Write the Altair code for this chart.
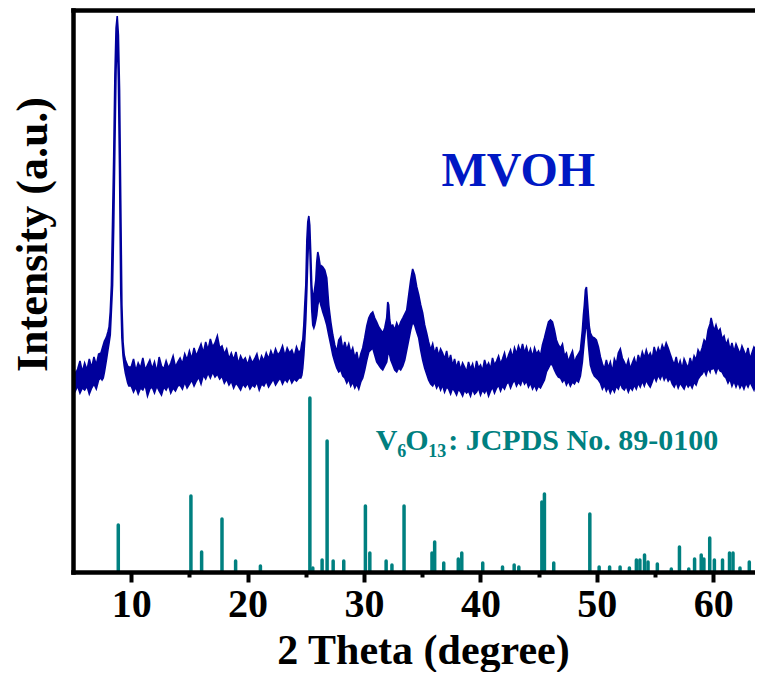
import altair as alt
import pandas as pd

# ---------------- data ----------------
# XRD pattern of MVOH: upper / lower edges of the noisy trace (a.u.)
two_theta = [5.00, 5.20, 5.40, 5.60, 5.80, 6.00, 6.20, 6.40, 6.60, 6.80, 7.00, 7.20, 7.40,
             7.50, 7.60, 7.70, 7.80, 7.90, 8.00, 8.10, 8.20, 8.30, 8.40, 8.50, 8.60, 8.70,
             8.80, 8.90, 9.00, 9.10, 9.20, 9.30, 9.40, 9.50, 9.60, 9.70, 9.80,
             10.0, 10.2, 10.4, 10.6, 10.8, 11.0, 11.2, 11.4, 11.6, 11.8, 12.0, 12.2, 12.4,
             12.6, 12.8, 13.0, 13.2, 13.4, 13.6, 13.8, 14.0, 14.2, 14.4, 14.6, 14.8, 15.0,
             15.2, 15.4, 15.6, 15.8, 16.0, 16.2, 16.4, 16.6, 16.8, 17.0, 17.2, 17.4, 17.6,
             17.8, 18.0, 18.2, 18.4, 18.6, 18.8, 19.0, 19.2, 19.4, 19.6, 19.8, 20.0, 20.2,
             20.4, 20.6, 20.8, 21.0, 21.2, 21.4, 21.6, 21.8, 22.0, 22.2, 22.4, 22.6, 22.8,
             23.0, 23.2, 23.4, 23.6, 23.8, 24.0, 24.2, 24.4,
             24.57, 24.66, 24.74, 24.83, 24.91, 25.00, 25.09, 25.17, 25.26, 25.34, 25.43,
             25.51, 25.60, 25.69, 25.77, 25.86, 25.94, 26.03, 26.12, 26.20, 26.29, 26.37,
             26.46, 26.63, 26.80, 26.97, 27.15, 27.32, 27.49, 27.66, 27.83, 28.00, 28.18,
             28.35, 28.52, 28.69, 28.86, 29.03, 29.21, 29.38, 29.55, 29.72, 29.89, 30.06,
             30.24, 30.41, 30.58, 30.75, 30.92, 31.09, 31.27, 31.44, 31.61, 31.78, 31.95,
             32.04, 32.12, 32.21, 32.30, 32.47, 32.64, 32.81, 32.98, 33.15, 33.33, 33.50,
             33.67, 33.84, 34.01, 34.18, 34.35, 34.53, 34.70, 34.87, 35.04, 35.21, 35.38,
             35.55, 35.73, 35.90, 36.07, 36.24, 36.41, 36.58, 36.75, 36.92, 37.10, 37.27,
             37.44, 37.61, 37.78, 37.95, 38.12, 38.30, 38.47, 38.64, 38.81, 38.98, 39.15,
             39.33, 39.50, 39.67, 39.84, 40.01, 40.18, 40.36, 40.53, 40.70, 40.87, 41.04,
             41.21, 41.39, 41.56, 41.73, 41.90, 42.07, 42.24, 42.42, 42.59, 42.76, 42.93,
             43.10, 43.27, 43.45, 43.62, 43.79, 43.96, 44.13, 44.30, 44.48, 44.65, 44.82,
             44.99, 45.16, 45.33, 45.50, 45.67, 45.85, 46.02, 46.19, 46.36, 46.53, 46.70,
             46.88, 47.05, 47.22, 47.39, 47.56, 47.73, 47.91, 48.08, 48.25, 48.42, 48.59,
             48.76, 48.85, 48.93, 49.02, 49.11, 49.19, 49.28, 49.36, 49.45, 49.62, 49.79,
             49.96, 50.14, 50.31, 50.48, 50.65, 50.82, 50.99, 51.16, 51.34, 51.51, 51.68,
             51.85, 52.02, 52.19, 52.36, 52.53, 52.71, 52.88, 53.05, 53.22, 53.39, 53.56,
             53.73, 53.91, 54.08, 54.25, 54.42, 54.59, 54.76, 54.93, 55.10, 55.28, 55.45,
             55.62, 55.79, 55.96, 56.13, 56.30, 56.48, 56.65, 56.82, 56.99, 57.16, 57.33,
             57.50, 57.68, 57.85, 58.02, 58.19, 58.36, 58.53, 58.70, 58.88, 59.05, 59.22,
             59.39, 59.56, 59.73, 59.82, 59.90, 60.07, 60.24, 60.41, 60.59, 60.76, 60.93,
             61.10, 61.27, 61.44, 61.61, 61.79, 61.96, 62.13, 62.30, 62.47, 62.64, 62.81,
             62.99, 63.16, 63.33, 63.50, 63.67, 63.84, 64.01, 64.18, 64.35]

upper = [
    # 5.0 - 7.4
    206, 198, 203, 211, 200, 209, 202, 213, 204, 215, 207, 218, 219,
    # 7.5 - 9.8 (first reflection)
    223, 227, 231, 233, 236, 240, 245, 260, 287, 352, 417, 497, 544, 556, 537, 482,
    372, 267, 230, 217, 212, 209, 206, 205,
    # 10.0 - 24.4
    205, 213, 201, 209, 204, 214, 202, 207, 212, 203, 210, 200, 215, 206, 203, 211,
    204, 209, 216, 205, 210,
    214, 208, 218, 212, 221, 213, 224, 216, 222, 228, 219, 230, 222, 233, 225, 229,
    236, 224,
    226, 218, 223, 213, 219, 212, 220, 208, 216, 211, 214,
    207, 215, 209, 213, 218, 208, 216, 211, 219, 213, 221, 215, 223, 217, 220, 226,
    216, 224, 219, 222, 215, 225, 219,
    # 24.57 - 35.38
    222, 229, 232, 247, 267, 287, 332, 350, 356, 347, 317,
    287, 274, 277, 284, 292, 310, 320, 315, 309, 302, 306,
    305, 302, 294, 267, 250, 237, 227, 220, 232, 235, 222,
    230, 222, 228, 219, 224, 214, 220, 209, 218, 224, 234,
    246, 254, 258, 260, 254, 250, 245, 242, 239, 244, 254,
    270, 267, 252, 246, 247, 242, 249, 244, 250, 254, 258,
    262, 277, 292, 303, 297, 285, 277, 267, 259, 247, 239,
    # 35.55 - 45.16
    230, 222, 228, 218, 225, 216, 223, 219, 213, 221,
    210, 217, 206, 213, 204, 211, 202, 209, 205, 200,
    210, 203, 208, 199, 211, 204, 207, 201, 212, 205,
    209, 203, 214, 207, 211, 216, 208, 213, 219, 210,
    217, 222, 214, 224, 218, 226, 220, 228, 219, 225,
    217, 223, 215, 224, 218, 221, 216,
    # 45.33 - 46.70
    227, 234, 242, 250, 252, 250, 242, 232, 227,
    # 46.88 - 48.59
    224, 228, 216, 219, 210, 216, 221, 209, 215, 218, 222,
    # 48.76 - 50.14
    242, 257, 267, 282, 285, 272, 257, 245, 239, 235, 234, 232, 225,
    # 50.31 - 58.88
    215, 208, 203, 212, 204, 210, 200, 213, 208, 219,
    223, 214, 210, 205, 212, 203, 209, 214, 206, 217,
    211, 220, 214, 222, 215, 219, 213, 225, 217, 224,
    219, 227, 222, 229, 224, 218, 212, 207, 215, 205,
    211, 203, 213, 208, 204, 214, 207, 216, 212, 222,
    218,
    # 59.05 - 60.93
    224, 232, 229, 242, 248, 254, 250, 241, 247, 240, 243, 233, 236,
    # 61.10 - 64.35
    227, 232, 222, 229, 220, 228, 223, 218, 226, 221, 216, 224, 213, 219, 225, 222,
    232, 221, 226, 220]

lower = [
    # 5.0 - 7.4
    187, 181, 186, 179, 184, 182, 186, 178, 184, 188, 183, 192, 194,
    # 7.5 - 9.8
    192, 194, 200, 207, 214, 222, 229, 237, 262, 287, 347, 427, 502, 540, 492, 402,
    282, 234, 216, 206, 199, 194, 189, 186,
    # 10.0 - 24.4
    186, 180, 185, 178, 184, 182, 187, 176, 183, 185, 179, 186, 181, 177, 185, 182,
    187, 179, 184, 181, 186,
    187, 183, 190, 184, 188, 192, 186, 191, 195, 188, 197, 193, 199, 194, 200, 195,
    198, 193,
    196, 189, 193, 187, 191, 184, 189, 186, 182, 188, 185,
    189, 183, 187, 185, 190, 182, 188, 186, 191, 185, 189, 193, 187, 191, 194, 188,
    193, 190, 195, 189, 193, 191, 194,
    # 24.57 - 35.38
    194, 197, 204, 217, 232, 252, 282, 312, 337, 327, 292,
    262, 247, 244, 247, 252, 257, 267, 272, 272, 267, 264,
    260, 254, 247, 237, 227, 217, 210, 204, 200, 202, 196,
    194, 189, 193, 186, 190, 184, 188, 183, 190, 194, 202,
    212, 220, 222, 224, 217, 210, 207, 204, 202, 206, 210,
    217, 220, 217, 212, 207, 202, 200, 204, 202, 206, 212,
    222, 232, 242, 250, 247, 240, 234, 222, 212, 204, 198,
    # 35.55 - 45.16
    192, 188, 186, 190, 184, 188, 182, 187, 180, 185,
    183, 178, 184, 181, 177, 183, 180, 176, 182, 179,
    181, 176, 183, 178, 180, 184, 177, 182, 179, 183,
    176, 181, 185, 179, 184, 187, 181, 186, 183, 188,
    190, 184, 189, 192, 186, 190, 187, 193, 188, 191,
    185, 189, 183, 187, 182, 186, 184,
    # 45.33 - 46.70
    188, 192, 200, 204, 208, 207, 202, 198, 195,
    # 46.88 - 48.59
    194, 190, 193, 187, 191, 186, 190, 188, 192, 190, 196,
    # 48.76 - 50.14
    210, 222, 232, 242, 252, 242, 227, 217, 207, 200, 196, 194, 192,
    # 50.31 - 58.88
    189, 183, 187, 181, 185, 179, 184, 180, 186, 183,
    189, 184, 182, 186, 180, 185, 182, 187, 183, 189,
    185, 191, 186, 192, 188, 185, 190, 196, 191, 197,
    193, 198, 192, 196, 191, 194, 188, 185, 190, 184,
    189, 186, 183, 189, 185, 188, 184, 190, 187, 193,
    196,
    # 59.05 - 60.93
    198, 202, 197, 204, 200, 206, 203, 204, 199, 205, 201, 200, 196,
    # 61.10 - 64.35
    194, 189, 193, 186, 191, 185, 190, 184, 188, 183, 189, 185, 190, 186, 182, 189,
    185, 190, 184, 188]

# V6O13 reference pattern (JCPDS No. 89-0100): positions and relative heights
ref_pos = [8.89, 15.13, 16.05, 17.80, 18.97, 21.10, 25.35, 25.60, 26.40, 26.83, 27.35,
           28.26, 30.12, 30.50, 31.90, 32.40, 33.44, 35.84, 36.07, 36.85, 38.10, 38.40,
           40.20, 41.90, 42.90, 43.30, 45.28, 45.50, 46.30, 49.40, 50.20, 51.10, 52.00,
           52.80, 53.40, 53.70, 54.10, 54.40, 55.20, 56.40, 57.10, 57.90, 58.40, 58.97,
           59.20, 59.70, 60.10, 60.80, 61.40, 61.70, 62.30, 63.10, 64.10]
ref_height = [47, 76, 20, 53, 11, 6, 174, 4, 12, 131, 11,
              11, 66, 19, 11, 7, 66, 19, 30, 9, 13, 19,
              9, 5, 7, 5, 70, 78, 9, 58, 5, 5, 5,
              4, 12, 12, 17, 10, 8, 3, 25, 3, 13, 17,
              13, 34, 12, 12, 19, 19, 4, 10, 6]

major_ticks = [10, 20, 30, 40, 50, 60]
minor_ticks = [15, 25, 35, 45, 55]

# ---------------- chart ----------------
BLUE = "#00009C"
TEAL = "#008080"
FONT = "Liberation Serif"

curve = pd.DataFrame({"two_theta": two_theta, "upper": upper, "lower": lower})
sticks = pd.DataFrame({"pos": ref_pos, "height": ref_height, "base": [0] * len(ref_pos)})

xscale = alt.Scale(domain=[5, 63.59], nice=False, zero=False)
yscale = alt.Scale(domain=[0, 562], nice=False, zero=True)

major_axis = alt.Axis(orient="bottom", values=major_ticks, format="d", grid=False,
                      domainWidth=4.5, domainColor="black", domainCap="square",
                      tickSize=10, tickWidth=4, tickColor="black",
                      labelFont=FONT, labelFontWeight="bold", labelFontSize=40,
                      labelColor="black", labelBaseline="alphabetic", labelPadding=34,
                      labelFlush=False, labelOverlap=False,
                      title="2 Theta (degree)", titleFont=FONT, titleFontWeight="bold",
                      titleFontSize=42, titleColor="black", titleX=350, titleY=91,
                      titleAnchor="middle", titleAlign="center", titleBaseline="alphabetic",
                      zindex=2)
top_axis = alt.Axis(orient="top", grid=False, domainWidth=4.5, domainColor="black",
                    domainCap="square", ticks=False, labels=False, title=None, zindex=2)
minor_axis = alt.Axis(orient="bottom", values=minor_ticks, grid=False, domain=False,
                      tickSize=5, tickWidth=4, tickColor="black", labels=False,
                      title=None, zindex=2)
y_axis = alt.Axis(orient="left", grid=False, domainWidth=4.5, domainColor="black",
                  domainCap="square", ticks=False, labels=False,
                  title="Intensity (a.u.)", titleFont=FONT, titleFontWeight="bold",
                  titleFontSize=44, titleColor="black", titleAngle=-90,
                  titleX=-40, titleY=224, titleAlign="center", titleBaseline="middle",
                  zindex=2)

trace = alt.Chart(curve).mark_area(color=BLUE, stroke=BLUE, strokeWidth=1.6,
                                   strokeJoin="miter", clip=True, opacity=1).encode(
    x=alt.X("two_theta:Q", scale=xscale, axis=major_axis),
    y=alt.Y("upper:Q", scale=yscale, axis=y_axis),
    y2="lower:Q",
)

ref = alt.Chart(sticks).mark_rule(color=TEAL, strokeWidth=3.5, strokeCap="round",
                                  clip=True).encode(
    x=alt.X("pos:Q", scale=xscale, axis=top_axis),
    y=alt.Y("height:Q", scale=yscale, axis=None),
    y2="base:Q",
)

ann = pd.DataFrame({"x": [36.65], "y": [386]})
mvoh = alt.Chart(ann).mark_text(text="MVOH", font=FONT, fontWeight="bold", fontSize=48,
                                color="#0018C4", align="left", baseline="alphabetic").encode(
    x=alt.X("x:Q", scale=xscale, axis=minor_axis),
    y=alt.Y("y:Q", scale=yscale, axis=None),
)

lab = pd.DataFrame({"x": [31.0], "y": [122]})
pieces = [("V", 0, 0, 30), ("6", 21.5, 7, 18), ("O", 29.5, 0, 30), ("13", 52.5, 7, 18),
          (": JCPDS No. 89-0100", 72.5, 0, 30)]
label_layers = []
for txt, dx, dy, fs in pieces:
    label_layers.append(
        alt.Chart(lab).mark_text(text=txt, font=FONT, fontWeight="bold", fontSize=fs,
                                 color=TEAL, align="left", baseline="alphabetic",
                                 dx=dx, dy=dy).encode(
            x=alt.X("x:Q", scale=xscale, axis=None),
            y=alt.Y("y:Q", scale=yscale, axis=None),
        )
    )

chart = alt.layer(trace, ref, mvoh, *label_layers).resolve_axis(
    x="independent", y="independent"
).resolve_scale(x="shared", y="shared").properties(
    width=682, height=562,
    autosize=alt.AutoSizeParams(type="none"),
    padding={"left": 65, "top": 2, "right": 0, "bottom": 100},
).configure_view(stroke=None).configure(background="white")

chart.save("out.html", embed_options={"renderer": "svg", "actions": False})
